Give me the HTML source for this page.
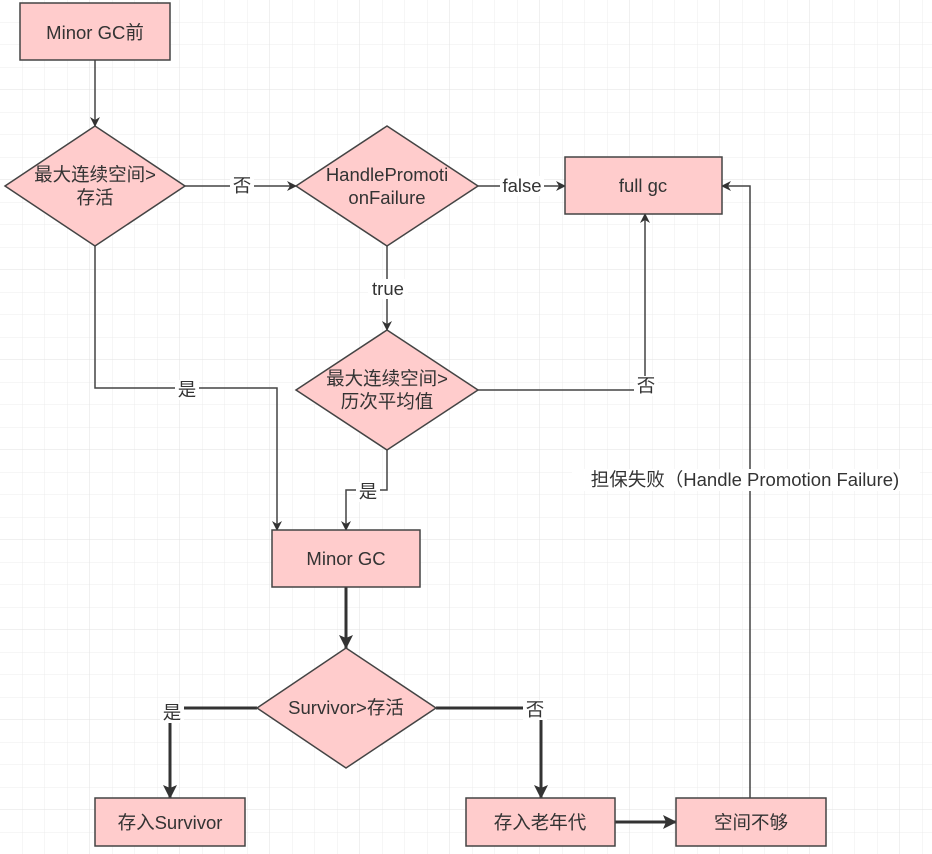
<!DOCTYPE html>
<html><head><meta charset="utf-8"><style>
html,body{margin:0;padding:0;background:#fff;}
svg{display:block;}
text{font-family:"Liberation Sans","Noto Sans CJK SC",sans-serif;font-size:18.5px;fill:#333;}
</style></head><body>
<svg width="932" height="854" viewBox="0 0 932 854" xmlns="http://www.w3.org/2000/svg">
<defs>
<pattern id="g" width="22.5" height="22.5" patternUnits="userSpaceOnUse" x="0" y="0">
<path d="M22.5 0V22.5M0 22.5H22.5" stroke="#ececec" stroke-width="1" fill="none"/>
</pattern>
<pattern id="G" width="90" height="90" patternUnits="userSpaceOnUse" x="0" y="0">
<path d="M90 0V90M0 90H90" stroke="#e2e2e2" stroke-width="1" fill="none"/>
</pattern>
<marker id="a" markerWidth="10" markerHeight="10" refX="9" refY="5" orient="auto" markerUnits="userSpaceOnUse"><path d="M0,0L10,5L0,10L3,5Z" fill="#333"/></marker>
<marker id="b" markerWidth="14" markerHeight="14" refX="13" refY="7" orient="auto" markerUnits="userSpaceOnUse"><path d="M0,0L14,7L0,14L3,7Z" fill="#333"/></marker>
</defs>
<rect width="932" height="854" fill="url(#g)"/>
<rect width="932" height="854" fill="url(#G)"/>

<g stroke="#444" stroke-width="1.5" fill="none">
<path d="M95 60V126" marker-end="url(#a)"/>
<path d="M185 186H296" marker-end="url(#a)"/>
<path d="M478 186H565" marker-end="url(#a)"/>
<path d="M387 246V330" marker-end="url(#a)"/>
<path d="M478 390H645V214" marker-end="url(#a)"/>
<path d="M95 246V388H277V530" marker-end="url(#a)"/>
<path d="M387 450V490H346V530" marker-end="url(#a)"/>
<path d="M750 798V186H722" marker-end="url(#a)"/>
</g>
<g stroke="#333" stroke-width="3" fill="none">
<path d="M346 587V648" marker-end="url(#b)"/>
<path d="M257 708H170V798" marker-end="url(#b)"/>
<path d="M436 708H541V798" marker-end="url(#b)"/>
<path d="M615 822H676" marker-end="url(#b)"/>
</g>

<g fill="#ffcccc" stroke="#444" stroke-width="1.5">
<rect x="20" y="3" width="150" height="57"/>
<polygon points="95,126 185,186 95,246 5,186"/>
<polygon points="387,126 478,186 387,246 296,186"/>
<rect x="565" y="157" width="157" height="57"/>
<polygon points="387,330 478,390 387,450 296,390"/>
<rect x="272" y="530" width="148" height="57"/>
<polygon points="346,648 436,708 346,768 257,708"/>
<rect x="95" y="798" width="150" height="48"/>
<rect x="466" y="798" width="149" height="48"/>
<rect x="676" y="798" width="150" height="48"/>
</g>

<g text-anchor="middle">
<text x="95" y="39">Minor GC前</text>
<text x="95" y="181">最大连续空间&gt;</text>
<text x="95" y="204">存活</text>
<text x="387" y="181">HandlePromoti</text>
<text x="387" y="204">onFailure</text>
<text x="643" y="192">full gc</text>
<text x="387" y="385">最大连续空间&gt;</text>
<text x="387" y="408">历次平均值</text>
<text x="346" y="565">Minor GC</text>
<text x="346" y="714">Survivor&gt;存活</text>
<text x="170" y="829">存入Survivor</text>
<text x="540" y="829">存入老年代</text>
<text x="751" y="829">空间不够</text>
</g>

<g text-anchor="middle">
<rect x="230" y="176" width="24" height="20" fill="#fff"/><text x="242" y="192">否</text>
<rect x="500" y="176" width="44" height="20" fill="#fff"/><text x="522" y="192">false</text>
<rect x="368" y="279" width="40" height="20" fill="#fff"/><text x="388" y="295">true</text>
<rect x="634" y="376" width="24" height="20" fill="#fff"/><text x="646" y="392">否</text>
<rect x="175" y="380" width="24" height="20" fill="#fff"/><text x="187" y="396">是</text>
<rect x="356" y="482" width="24" height="20" fill="#fff"/><text x="368" y="498">是</text>
<rect x="160" y="703" width="24" height="20" fill="#fff"/><text x="172" y="719">是</text>
<rect x="523" y="700" width="24" height="20" fill="#fff"/><text x="535" y="716">否</text>
<rect x="572" y="469" width="348" height="22" fill="#fff"/><text x="745" y="486">担保失败（Handle Promotion Failure)</text>
</g>
</svg>
</body></html>
